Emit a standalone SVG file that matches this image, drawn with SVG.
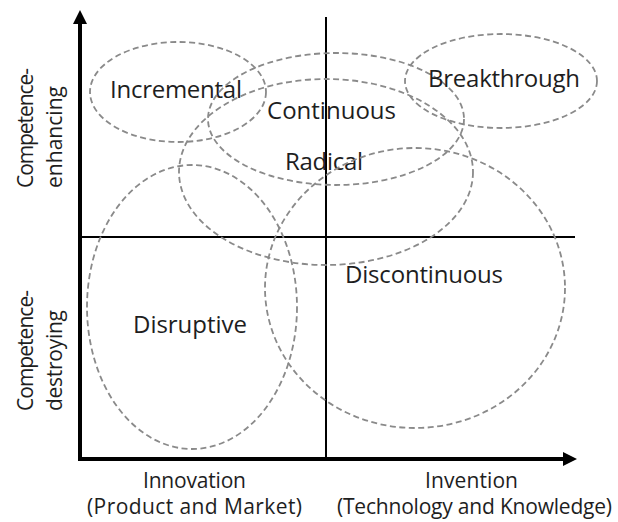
<svg xmlns="http://www.w3.org/2000/svg" width="618" height="522" viewBox="0 0 618 522">
<style>
.bg{fill:#fff}
.ell{fill:none;stroke:#8a8a8a;stroke-width:1.8;stroke-dasharray:6 3.5}
.lbl{font-family:"Open Sans","Noto Sans","Liberation Sans",sans-serif;font-size:24px;fill:#1e1e1e}
.ax{font-family:"Open Sans","Noto Sans","Liberation Sans",sans-serif;font-size:21px;fill:#1e1e1e}
.axis{stroke:#000;stroke-width:4;fill:none}
.mid{stroke:#000;stroke-width:2;fill:none}
</style>
<defs>
<marker id="arr" viewBox="0 0 14 14" markerWidth="14" markerHeight="14" refX="2" refY="7" orient="auto" markerUnits="userSpaceOnUse">
<path d="M0,0 L14,7 L0,14 z" fill="#000"/>
</marker>
</defs>
<rect class="bg" x="0" y="0" width="618" height="522"/>
<g id="connectors">
<line class="mid" x1="326" y1="17" x2="326" y2="459"/>
<line class="mid" x1="80" y1="237" x2="575" y2="237"/>
<line class="axis" x1="80" y1="461" x2="80" y2="22" marker-end="url(#arr)"/>
<line class="axis" x1="78" y1="459" x2="565" y2="459" marker-end="url(#arr)"/>
</g>
<g id="incremental">
<ellipse class="ell" cx="178" cy="92" rx="88" ry="50"/>
<text class="lbl" x="110" y="98" textLength="132">Incremental</text>
</g>
<g id="continuous">
<ellipse class="ell" cx="336" cy="119" rx="128" ry="66"/>
<text class="lbl" x="267" y="119" textLength="129">Continuous</text>
</g>
<g id="radical">
<ellipse class="ell" cx="326" cy="172" rx="147" ry="93"/>
<text class="lbl" x="285" y="170" textLength="78">Radical</text>
</g>
<g id="breakthrough">
<ellipse class="ell" cx="501" cy="81" rx="96" ry="47"/>
<text class="lbl" x="428" y="87" textLength="152">Breakthrough</text>
</g>
<g id="discontinuous">
<ellipse class="ell" cx="415" cy="288" rx="150" ry="140"/>
<text class="lbl" x="345" y="283" textLength="158">Discontinuous</text>
</g>
<g id="disruptive">
<ellipse class="ell" cx="192" cy="307" rx="105" ry="142"/>
<text class="lbl" x="133" y="333" textLength="114">Disruptive</text>
</g>
<g id="axis-labels">
<text class="ax" transform="translate(0,188) rotate(-90)"><tspan x="0" y="33" textLength="120">Competence-</tspan><tspan x="0" y="62" textLength="102">enhancing</tspan></text>
<text class="ax" transform="translate(0,411) rotate(-90)"><tspan x="0" y="33" textLength="121">Competence-</tspan><tspan x="0" y="62" textLength="101">destroying</tspan></text>
<text class="ax" x="143" y="488" textLength="103">Innovation</text>
<text class="ax" x="87" y="514" textLength="215">(Product and Market)</text>
<text class="ax" x="425" y="488" textLength="93">Invention</text>
<text class="ax" x="337" y="514" textLength="275">(Technology and Knowledge)</text>
</g>
</svg>
